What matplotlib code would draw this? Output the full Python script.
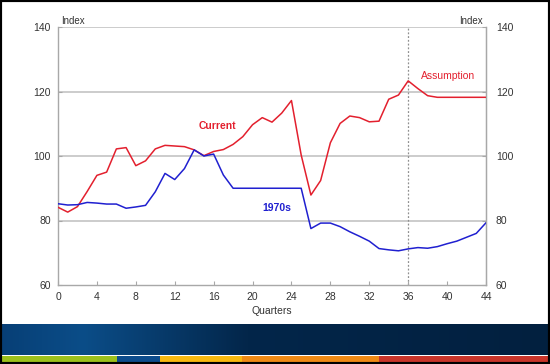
import numpy as np
import matplotlib
matplotlib.use('Agg')
import matplotlib.pyplot as plt
from matplotlib.colors import LinearSegmentedColormap
from matplotlib.patches import Rectangle

plt.rcParams['font.family'] = ['Liberation Sans', 'DejaVu Sans']

quarters = list(range(45))
current = [84.1, 82.6, 84.3, 89.0, 94.0, 95.0, 102.2, 102.6, 97.0, 98.5,
           102.2, 103.3, 103.1, 102.9, 101.9, 100.1, 101.4, 102.0, 103.6, 106.0,
           109.7, 111.9, 110.5, 113.3, 117.2, 100.3, 87.9, 92.4, 104.1, 110.1,
           112.4, 111.9, 110.6, 110.8, 117.6, 118.9, 123.3, 120.9, 118.7, 118.2,
           118.2, 118.2, 118.2, 118.2, 118.2]
seventies = [85.2, 84.8, 84.9, 85.6, 85.4, 85.1, 85.1, 83.8, 84.2, 84.7,
             88.9, 94.6, 92.7, 96.1, 101.9, 100.0, 100.6, 94.1, 90.0, 90.0,
             90.0, 90.0, 90.0, 90.0, 90.0, 90.0, 77.5, 79.2, 79.2, 78.1,
             76.5, 75.1, 73.6, 71.3, 70.9, 70.6, 71.2, 71.6, 71.4, 71.9,
             72.8, 73.6, 74.8, 76.0, 79.3]
x_ticks = list(range(0, 45, 4))
y_ticks = [60, 80, 100, 120, 140]

red = '#E3202E'
blue = '#2020D0'
grey = '#A8A8A8'

fig = plt.figure(figsize=(5.5, 3.64), dpi=100)
ax = fig.add_axes([58 / 550, 1 - 285 / 364, 428 / 550, 258 / 364])

for v in y_ticks[1:]:
    ax.axhline(v, color='#C4C4C4', lw=1.2, zorder=1)
ax.axvline(36, color='#909090', lw=0.9, ls=(0, (1.5, 1.5)), zorder=1)

ax.plot(quarters, current, color=red, lw=1.1, zorder=3)
ax.plot(quarters, seventies, color=blue, lw=1.1, zorder=3)

ax.set_xlim(0, 44)
ax.set_ylim(60, 140)
ax.set_xticks(x_ticks)
ax.set_yticks(y_ticks)
ax.spines['top'].set_visible(False)
for s in ['left', 'right', 'bottom']:
    ax.spines[s].set_color(grey)
    ax.spines[s].set_linewidth(1.0)
ax.tick_params(axis='both', direction='in', length=3, color=grey,
               labelsize=7.5, labelcolor='#333333')
ax.tick_params(axis='y', pad=5)
ax.tick_params(axis='x', pad=5)
ax.set_xlabel('Quarters', fontsize=7.5, color='#333333', labelpad=3)

ax2 = ax.twinx()
ax2.set_ylim(60, 140)
ax2.set_yticks(y_ticks)
for s in ['top', 'left', 'bottom']:
    ax2.spines[s].set_visible(False)
ax2.spines['right'].set_color(grey)
ax2.tick_params(axis='y', direction='in', length=3, color=grey,
                labelsize=7.5, labelcolor='#333333', pad=7)

ax.text(0.3, 140.2, 'Index', fontsize=7, color='#333333', ha='left', va='bottom')
ax.text(43.7, 140.2, 'Index', fontsize=7, color='#333333', ha='right', va='bottom')
ax.text(16.4, 109.3, 'Current', fontsize=7.5, fontweight='bold', color=red,
        ha='center', va='center')
ax.text(22.5, 83.9, '1970s', fontsize=7.5, fontweight='bold', color=blue,
        ha='center', va='center')
ax.text(40.1, 124.8, 'Assumption', fontsize=7.5, color=red,
        ha='center', va='center')

# footer band
band = fig.add_axes([0, 1 - 355 / 364, 1, 31 / 364])
cmap = LinearSegmentedColormap.from_list(
    'band', [(0, '#073F76'), (0.15, '#0B4D88'), (0.45, '#03264A'), (1, '#02203F')])
band.imshow(np.linspace(0, 1, 256)[None, :], aspect='auto', cmap=cmap,
            extent=[0, 1, 0, 1])
band.axis('off')

stripes = [(0, 117, '#9DC11C'), (117, 160, '#0D4C8C'), (160, 242, '#F8B90F'),
           (242, 379, '#F08A14'), (379, 550, '#C9352A')]
for x0, x1, c in stripes:
    fig.add_artist(Rectangle((x0 / 550, 2 / 364), (x1 - x0) / 550, 6 / 364,
                             transform=fig.transFigure, color=c, lw=0))

fig.add_artist(Rectangle((0, 0), 1, 1, transform=fig.transFigure,
                         fill=False, edgecolor='black', lw=3))

fig.savefig('out.png', dpi=100)
